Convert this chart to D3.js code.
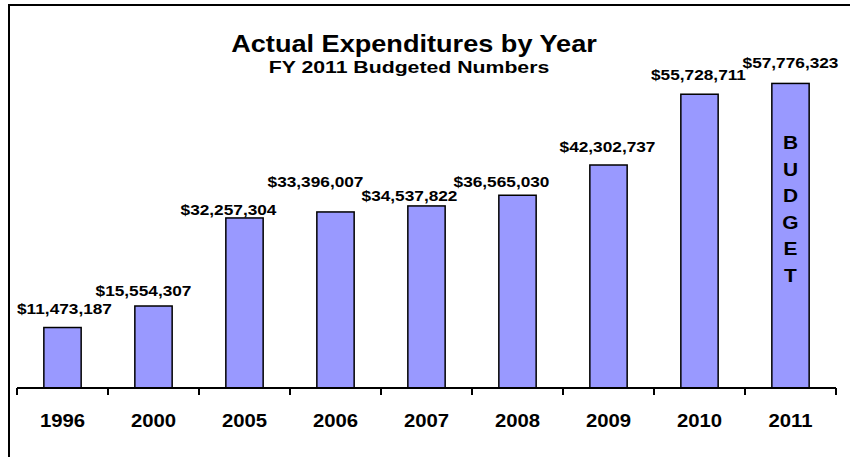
<!DOCTYPE html>
<html>
<head>
<meta charset="utf-8">
<script src="https://cdn.jsdelivr.net/npm/d3@7/dist/d3.min.js"></script>
<style>
  html, body { margin: 0; padding: 0; background: #fff; }
  svg { display: block; font-family: "Liberation Sans", Arial, sans-serif; }
</style>
</head>
<body>
<svg id="chart" width="850" height="457"></svg>
<script>
// Fiscal years shown on the category axis
const years = ["1996", "2000", "2005", "2006", "2007", "2008", "2009", "2010", "2011"];
// Expenditures per year in dollars (2011 is the budgeted figure)
const expenditures = [11473187, 15554307, 32257304, 33396007, 34537822, 36565030, 42302737, 55728711, 57776323];
// Word written down the budget-year bar
const budgetWord = ["B", "U", "D", "G", "E", "T"];
const budgetYear = "2011";
const titleText = "Actual Expenditures by Year";
const subtitleText = "FY 2011 Budgeted Numbers";

const data = years.map((y, i) => ({ year: y, value: expenditures[i] }));

const svg = d3.select("#chart");
const W = 850, H = 457;
const plot = { left: 17, right: 836, top: 19, bottom: 388 };

// Bold text drawn slightly wide, anchored at its centre
function wideText(sel, px, py, size, sx) {
  return sel
    .attr("transform", (d, i) => `translate(${typeof px === "function" ? px(d, i) : px},${typeof py === "function" ? py(d, i) : py}) scale(${sx},1)`)
    .attr("text-anchor", "middle")
    .attr("font-size", size)
    .attr("font-weight", "bold")
    .attr("fill", "#000");
}

// Outer chart frame (extends past the right and bottom edges)
svg.append("rect")
  .attr("x", 9).attr("y", 5)
  .attr("width", W + 20).attr("height", H + 20)
  .attr("fill", "#fff")
  .attr("stroke", "#000").attr("stroke-width", 2);

// Scales
const x = d3.scaleBand().domain(years).range([plot.left, plot.right]).padding(0);
const y = d3.scaleLinear().domain([0, 70000000]).range([plot.bottom, plot.top]);
const barW = x.bandwidth() * 0.41;

// Bars
svg.append("g").selectAll("rect")
  .data(data)
  .join("rect")
  .attr("x", d => x(d.year) + (x.bandwidth() - barW) / 2)
  .attr("y", d => y(d.value))
  .attr("width", barW)
  .attr("height", d => y(0) - y(d.value))
  .attr("fill", "#9999FF")
  .attr("stroke", "#000")
  .attr("stroke-width", 1.5);

// Category axis with ticks between categories
const axisG = svg.append("g").attr("transform", `translate(0,${plot.bottom})`);
axisG.append("line")
  .attr("x1", plot.left).attr("x2", plot.right)
  .attr("y1", 0).attr("y2", 0)
  .attr("stroke", "#000").attr("stroke-width", 2);
const boundaries = years.map(d => x(d)).concat([x(years[years.length - 1]) + x.step()]);
axisG.selectAll("line.tick")
  .data(boundaries)
  .join("line")
  .attr("class", "tick")
  .attr("x1", d => d).attr("x2", d => d)
  .attr("y1", 0).attr("y2", 7)
  .attr("stroke", "#000").attr("stroke-width", 2);
wideText(axisG.selectAll("text").data(years).join("text"),
  d => x(d) + x.bandwidth() / 2, 39, 19, 1.07)
  .text(d => d);

// Value labels, nudged apart where neighbouring labels would collide
const labelNudge = [[2, 14], [-10, 10.5], [-16, 3], [-20, 24.5], [-17, 5], [-16, 8.5], [-1, 13], [-1, 14], [0, 15]];
const fmt = d3.format("$,");
wideText(svg.append("g").selectAll("text").data(data).join("text"),
  (d, i) => x(d.year) + x.bandwidth() / 2 + labelNudge[i][0],
  (d, i) => y(d.value) - labelNudge[i][1], 15, 1.15)
  .text(d => fmt(d.value));

// "BUDGET" written vertically inside the budget-year bar
wideText(svg.append("g").selectAll("text").data(budgetWord).join("text"),
  x(budgetYear) + x.bandwidth() / 2, (d, i) => 149 + i * 26.5, 19, 1.1)
  .text(d => d);

// Titles
wideText(svg.append("text"), 414, 52, 24, 1.13).text(titleText);
wideText(svg.append("text"), 409, 73, 17, 1.25).text(subtitleText);
</script>
</body>
</html>
